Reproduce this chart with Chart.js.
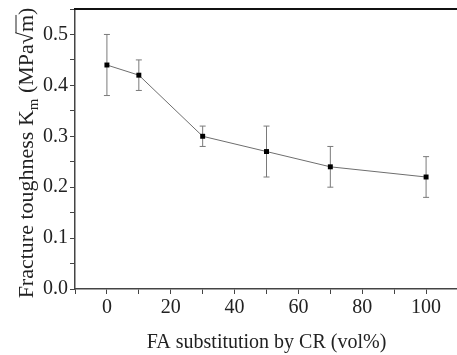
<!DOCTYPE html>
<html>
<head>
<meta charset="utf-8">
<script src="https://cdn.jsdelivr.net/npm/chart.js@4"></script>
<style>
  html, body { margin: 0; padding: 0; background: #fff; overflow: hidden; }
  #wrap { width: 462px; height: 355px; }
</style>
</head>
<body>
<div id="wrap"><canvas id="toughnessChart"></canvas></div>
<script>
// Werte
const substitution = [0, 10, 30, 50, 70, 100];
const toughness = [0.44, 0.42, 0.30, 0.27, 0.24, 0.22];
const errLow = [0.38, 0.39, 0.28, 0.22, 0.20, 0.18];
const errHigh = [0.50, 0.45, 0.32, 0.32, 0.28, 0.26];
const xTickLabels = [0, 20, 40, 60, 80, 100];
const yTickLabels = [0.0, 0.1, 0.2, 0.3, 0.4, 0.5];

const serif = '"Liberation Serif", "Times New Roman", serif';

// Fehlerbalken ueber die Skalen zeichnen
const errorBars = {
  id: 'errorBars',
  beforeDatasetsDraw(chart) {
    const { ctx, scales: { x, y } } = chart;
    ctx.save();
    ctx.strokeStyle = '#7a7a7a';
    ctx.lineWidth = 1;
    for (let i = 0; i < substitution.length; i++) {
      const px = x.getPixelForValue(substitution[i]);
      const lo = y.getPixelForValue(errLow[i]);
      const hi = y.getPixelForValue(errHigh[i]);
      ctx.beginPath();
      ctx.moveTo(px, lo); ctx.lineTo(px, hi);
      ctx.moveTo(px - 3, lo); ctx.lineTo(px + 3, lo);
      ctx.moveTo(px - 3, hi); ctx.lineTo(px + 3, hi);
      ctx.stroke();
    }
    ctx.restore();
  }
};

// obere Rahmenlinie + y-Achsentitel mit Index und Wurzel
const frameAndTitle = {
  id: 'frameAndTitle',
  afterDraw(chart) {
    const { ctx, chartArea } = chart;
    ctx.save();
    ctx.strokeStyle = '#111';
    ctx.lineWidth = 2;
    ctx.beginPath();
    ctx.moveTo(chartArea.left - 1, chartArea.top);
    ctx.lineTo(chart.width, chartArea.top);
    ctx.stroke();

    ctx.fillStyle = '#222';
    ctx.textBaseline = 'alphabetic';
    const big = '22px ' + serif;
    const small = '15px ' + serif;
    const parts = [
      { t: 'Fracture toughness K', f: big, dy: 0 },
      { t: 'm', f: small, dy: 5 },
      { t: ' (MPa', f: big, dy: 0 },
      { t: '\u221A', f: big, dy: 0 },
      { t: 'm', f: big, dy: 0, bar: true },
      { t: ')', f: big, dy: 0 }
    ];
    let total = 0;
    parts.forEach(p => { ctx.font = p.f; p.w = ctx.measureText(p.t).width; total += p.w; });
    ctx.translate(33, 153);
    ctx.rotate(-Math.PI / 2);
    let cx = -total / 2;
    parts.forEach(p => {
      ctx.font = p.f;
      ctx.fillText(p.t, cx, p.dy);
      if (p.bar) {
        ctx.lineWidth = 1;
        ctx.strokeStyle = '#222';
        ctx.beginPath();
        ctx.moveTo(cx - 1, -17);
        ctx.lineTo(cx + p.w, -17);
        ctx.stroke();
      }
      cx += p.w;
    });
    ctx.restore();
  }
};

const isLabel = (list, v) => list.some(t => Math.abs(t - v) < 1e-6);

new Chart(document.querySelector('#toughnessChart'), {
  type: 'line',
  data: {
    datasets: [{
      data: substitution.map((s, i) => ({ x: s, y: toughness[i] })),
      borderColor: '#6e6e6e',
      borderWidth: 1,
      pointStyle: 'rect',
      pointRadius: 3.5,
      pointBackgroundColor: '#000',
      pointBorderColor: '#000',
      pointBorderWidth: 0,
      tension: 0
    }]
  },
  options: {
    responsive: true,
    maintainAspectRatio: false,
    animation: false,
    layout: { padding: { top: 9, right: 0, left: 0, bottom: 0 } },
    plugins: { legend: { display: false }, tooltip: { enabled: false } },
    scales: {
      x: {
        type: 'linear',
        min: -10,
        max: 110,
        afterFit: s => { s.height = 66; s.paddingLeft = 0; s.paddingRight = 0; },
        ticks: {
          stepSize: 10,
          color: '#222',
          padding: 2,
          maxRotation: 0,
          autoSkip: false,
          font: { family: serif, size: 20 },
          callback: v => isLabel(xTickLabels, v) ? String(v) : ''
        },
        grid: { drawOnChartArea: false, tickLength: 5, color: '#444' },
        border: { color: '#444', width: 1.5 },
        title: {
          display: true,
          text: 'FA substitution by CR (vol%)',
          color: '#222',
          font: { family: serif, size: 20 },
          padding: { top: 0, bottom: 0 }
        }
      },
      y: {
        min: 0,
        max: 0.55,
        afterFit: s => { s.width = 75; s.paddingTop = 0; s.paddingBottom = 0; },
        ticks: {
          stepSize: 0.05,
          color: '#222',
          padding: 2,
          autoSkip: false,
          font: { family: serif, size: 20 },
          callback: v => isLabel(yTickLabels, v) ? v.toFixed(1) : ''
        },
        grid: { drawOnChartArea: false, tickLength: 5, color: '#444' },
        border: { color: '#444', width: 1.5 }
      }
    }
  },
  plugins: [errorBars, frameAndTitle]
});
</script>
</body>
</html>
